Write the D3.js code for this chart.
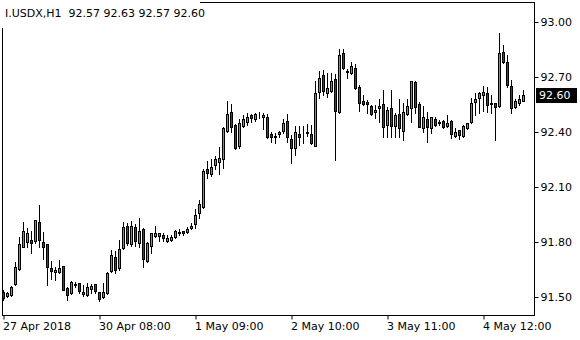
<!DOCTYPE html>
<html>
<head>
<meta charset="utf-8">
<script src="https://cdn.jsdelivr.net/npm/d3@7"></script>
<style>
    body { margin: 0; background: #fff; }
    svg { display: block; font-family: "DejaVu Sans", sans-serif; font-size: 11px; }
</style>
</head>
<body>
<div id="chart"></div>
<script>
// I.USDX H1 bars (oldest first)
const open = [
    91.527, 91.505, 91.509, 91.569, 91.654, 91.774, 91.800, 91.811, 91.807, 91.907,
    91.798, 91.789, 91.658, 91.636, 91.638, 91.667, 91.547, 91.520, 91.564, 91.576,
    91.516, 91.509, 91.544, 91.569, 91.527, 91.498, 91.520, 91.640, 91.718, 91.658,
    91.766, 91.887, 91.787, 91.880, 91.796, 91.869, 91.698, 91.778, 91.834, 91.834,
    91.838, 91.807, 91.810, 91.826, 91.849, 91.860, 91.856, 91.875, 91.897, 91.957,
    91.993, 92.197, 92.169, 92.220, 92.238, 92.251, 92.407, 92.507, 92.437, 92.325,
    92.434, 92.456, 92.491, 92.469, 92.487, 92.480, 92.480, 92.389, 92.374, 92.387,
    92.407, 92.460, 92.360, 92.311, 92.387, 92.383, 92.396, 92.387, 92.325, 92.617,
    92.709, 92.614, 92.625, 92.687, 92.507, 92.829, 92.729, 92.720, 92.747, 92.647,
    92.569, 92.566, 92.542, 92.507, 92.529, 92.553, 92.437, 92.529, 92.433, 92.498,
    92.407, 92.497, 92.529, 92.671, 92.553, 92.420, 92.471, 92.420, 92.469, 92.449,
    92.460, 92.434, 92.460, 92.378, 92.411, 92.378, 92.420, 92.456, 92.565, 92.584,
    92.602, 92.614, 92.552, 92.557, 92.540, 92.838, 92.783, 92.651, 92.535, 92.557,
    92.570
];
const high = [
    91.538, 91.527, 91.560, 91.693, 91.829, 91.909, 91.876, 91.862, 91.920, 92.002,
    91.853, 91.790, 91.698, 91.662, 91.702, 91.669, 91.553, 91.589, 91.583, 91.578,
    91.565, 91.575, 91.571, 91.570, 91.529, 91.578, 91.635, 91.756, 91.751, 91.811,
    91.907, 91.905, 91.916, 91.898, 91.929, 91.875, 91.802, 91.851, 91.887, 91.851,
    91.847, 91.838, 91.840, 91.865, 91.869, 91.861, 91.883, 91.905, 91.978, 92.029,
    92.197, 92.242, 92.251, 92.269, 92.320, 92.429, 92.569, 92.553, 92.444, 92.469,
    92.493, 92.505, 92.498, 92.505, 92.509, 92.502, 92.498, 92.402, 92.393, 92.407,
    92.469, 92.498, 92.386, 92.430, 92.433, 92.433, 92.444, 92.438, 92.678, 92.734,
    92.738, 92.720, 92.720, 92.716, 92.851, 92.851, 92.742, 92.780, 92.771, 92.656,
    92.602, 92.575, 92.547, 92.547, 92.578, 92.629, 92.536, 92.629, 92.502, 92.580,
    92.557, 92.580, 92.680, 92.676, 92.565, 92.542, 92.511, 92.483, 92.480, 92.465,
    92.465, 92.493, 92.465, 92.420, 92.412, 92.438, 92.451, 92.584, 92.614, 92.620,
    92.651, 92.647, 92.602, 92.560, 92.942, 92.875, 92.820, 92.684, 92.578, 92.602,
    92.630
];
const low = [
    91.484, 91.500, 91.505, 91.565, 91.647, 91.773, 91.774, 91.740, 91.795, 91.771,
    91.706, 91.565, 91.597, 91.593, 91.629, 91.536, 91.484, 91.516, 91.556, 91.523,
    91.505, 91.505, 91.523, 91.520, 91.480, 91.495, 91.516, 91.638, 91.629, 91.647,
    91.760, 91.784, 91.778, 91.778, 91.774, 91.665, 91.693, 91.738, 91.829, 91.807,
    91.807, 91.802, 91.805, 91.820, 91.837, 91.837, 91.851, 91.869, 91.878, 91.929,
    91.987, 92.147, 92.162, 92.197, 92.169, 92.205, 92.398, 92.398, 92.307, 92.314,
    92.429, 92.438, 92.456, 92.462, 92.475, 92.416, 92.369, 92.347, 92.338, 92.374,
    92.396, 92.347, 92.229, 92.275, 92.329, 92.338, 92.378, 92.333, 92.322, 92.587,
    92.602, 92.593, 92.620, 92.247, 92.505, 92.745, 92.696, 92.716, 92.635, 92.516,
    92.547, 92.505, 92.493, 92.478, 92.456, 92.371, 92.374, 92.374, 92.374, 92.374,
    92.356, 92.493, 92.456, 92.502, 92.426, 92.402, 92.347, 92.396, 92.434, 92.438,
    92.420, 92.429, 92.366, 92.374, 92.360, 92.374, 92.416, 92.451, 92.493, 92.502,
    92.516, 92.511, 92.502, 92.356, 92.538, 92.778, 92.647, 92.502, 92.529, 92.547,
    92.570
];
const close = [
    91.495, 91.520, 91.556, 91.665, 91.787, 91.858, 91.849, 91.796, 91.918, 91.811,
    91.774, 91.665, 91.643, 91.647, 91.657, 91.538, 91.509, 91.582, 91.571, 91.534,
    91.529, 91.556, 91.558, 91.534, 91.487, 91.527, 91.629, 91.727, 91.646, 91.760,
    91.880, 91.793, 91.887, 91.807, 91.860, 91.706, 91.793, 91.847, 91.847, 91.847,
    91.820, 91.823, 91.825, 91.860, 91.855, 91.848, 91.873, 91.887, 91.947, 92.006,
    92.187, 92.178, 92.207, 92.251, 92.258, 92.420, 92.498, 92.429, 92.314, 92.447,
    92.469, 92.480, 92.478, 92.497, 92.490, 92.493, 92.374, 92.374, 92.376, 92.398,
    92.447, 92.371, 92.315, 92.398, 92.374, 92.385, 92.399, 92.338, 92.611, 92.696,
    92.625, 92.638, 92.678, 92.516, 92.818, 92.747, 92.732, 92.760, 92.638, 92.557,
    92.553, 92.553, 92.498, 92.520, 92.542, 92.429, 92.520, 92.434, 92.493, 92.420,
    92.511, 92.542, 92.678, 92.538, 92.429, 92.480, 92.429, 92.480, 92.438, 92.453,
    92.429, 92.451, 92.389, 92.402, 92.384, 92.433, 92.447, 92.557, 92.578, 92.611,
    92.620, 92.547, 92.556, 92.538, 92.829, 92.783, 92.656, 92.529, 92.569, 92.578,
    92.600
];

// time axis labels, one every 24 bars
const timeLabels = ["27 Apr 2018", "30 Apr 08:00", "1 May 09:00", "2 May 10:00", "3 May 11:00", "4 May 12:00"];
const timeLabelBars = [0, 24, 48, 72, 96, 120];

// price axis
const priceTicks = [91.50, 91.80, 92.10, 92.40, 92.70, 93.00];
const symbol = "I.USDX,H1";

const W = 580, H = 340;
const plot = { left: 2.5, top: 2.5, right: 534.5, bottom: 315.5 };
const colors = { up: "#00e600", down: "#e00000" };

const bars = open.map((o, i) => ({ i: i, o: o, h: high[i], l: low[i], c: close[i] }));

const svg = d3.select("#chart").append("svg")
    .attr("width", W)
    .attr("height", H);

svg.append("rect").attr("width", W).attr("height", H).attr("fill", "#fff");

const x = d3.scaleLinear()
    .domain([0, bars.length - 1])
    .range([3.5, 3.5 + 4 * (bars.length - 1)]);

const y = d3.scaleLinear()
    .domain([91.5, 93.0])
    .range([297, 22]);

const px = v => Math.round(v) + 0.5;

// frame
svg.append("rect")
    .attr("x", plot.left).attr("y", plot.top)
    .attr("width", plot.right - plot.left)
    .attr("height", plot.bottom - plot.top)
    .attr("fill", "none").attr("stroke", "#000");

// candles
const g = svg.append("g");

g.selectAll(".wick")
    .data(bars)
    .enter().append("line")
    .attr("class", "wick")
    .attr("x1", d => x(d.i)).attr("x2", d => x(d.i))
    .attr("y1", d => Math.round(y(d.h)))
    .attr("y2", d => Math.round(y(d.l)) + 1)
    .attr("stroke", "#000");

g.selectAll(".body")
    .data(bars)
    .enter().append("rect")
    .attr("class", "body")
    .attr("x", d => x(d.i) - 1)
    .attr("y", d => px(y(Math.max(d.o, d.c))))
    .attr("width", 2)
    .attr("height", d => Math.max(0, px(y(Math.min(d.o, d.c))) - px(y(Math.max(d.o, d.c)))))
    .attr("fill", d => d.c >= d.o ? colors.up : colors.down)
    .attr("stroke", "#000");

// price axis
const yAxis = svg.append("g")
    .attr("transform", `translate(${plot.right},0)`)
    .call(d3.axisRight(y).tickValues(priceTicks).tickSize(4).tickPadding(2).tickFormat(d3.format(".2f")));
yAxis.select(".domain").remove();
yAxis.selectAll("text").attr("font-family", "DejaVu Sans").attr("font-size", 11).attr("fill", "#000");
yAxis.selectAll("line").attr("stroke", "#000");

// time axis
const xAxis = svg.append("g")
    .attr("transform", `translate(0,${plot.bottom})`)
    .call(d3.axisBottom(x).tickValues(timeLabelBars).tickSize(4).tickPadding(3)
        .tickFormat((d, k) => timeLabels[k]));
xAxis.select(".domain").remove();
xAxis.selectAll("text")
    .attr("text-anchor", "start")
    .attr("x", -1)
    .attr("font-family", "DejaVu Sans").attr("font-size", 11).attr("fill", "#000");
xAxis.selectAll("line").attr("stroke", "#000");

// current price tag
const last = bars[bars.length - 1];
const fmt = d3.format(".2f");
svg.append("rect")
    .attr("x", 536).attr("y", Math.round(y(last.c)) - 7)
    .attr("width", 41).attr("height", 15)
    .attr("fill", "#000");
svg.append("text")
    .attr("x", 539).attr("y", y(last.c))
    .attr("dy", "0.35em")
    .attr("fill", "#fff")
    .attr("font-size", 11)
    .text(fmt(last.c));

// title
svg.append("rect")
    .attr("x", 0).attr("y", 0).attr("width", 200).attr("height", 28)
    .attr("fill", "#fff");
svg.append("text")
    .attr("x", 5).attr("y", 17)
    .attr("fill", "#000")
    .attr("xml:space", "preserve")
    .style("white-space", "pre")
    .text(`${symbol}  ${fmt(last.o)} ${fmt(last.h)} ${fmt(last.l)} ${fmt(last.c)}`);
</script>
</body>
</html>
